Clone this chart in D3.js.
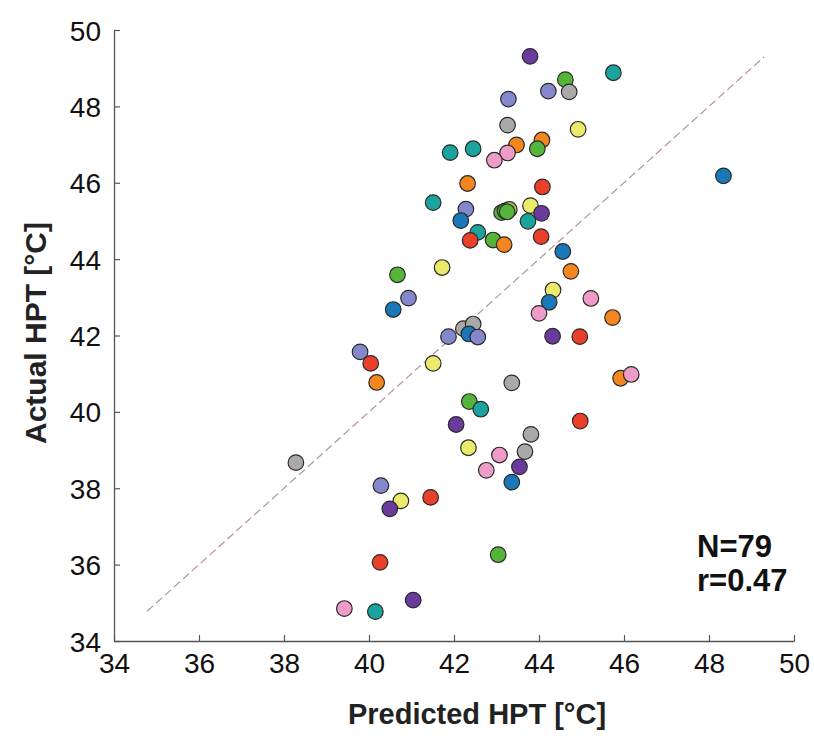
<!DOCTYPE html>
<html>
<head>
<meta charset="utf-8">
<script src="https://cdn.jsdelivr.net/npm/d3@7"></script>
<style>
  html, body { margin: 0; padding: 0; background: #fff; }
  svg { display: block; font-family: "Liberation Sans", Arial, sans-serif; }
</style>
</head>
<body>
<svg id="chart" width="814" height="736"></svg>
<script>
// ---- data ----
const predicted = [43.79,45.75,44.62,44.22,44.71,43.28,43.26,44.92,44.07,43.96,43.47,43.26,42.95,41.91,42.45,42.32,44.08,41.51,42.28,42.16,43.12,43.20,43.30,43.80,44.06,43.74,42.56,42.38,42.92,43.18,44.05,44.56,44.75,40.67,41.72,40.93,40.57,44.33,44.24,45.22,44.00,45.73,42.22,42.45,42.35,42.56,41.87,44.32,44.96,41.51,43.36,45.92,46.17,42.36,42.63,42.05,44.97,43.81,43.67,42.34,43.07,42.76,43.54,43.36,41.45,40.75,40.49,40.28,43.04,40.26,41.04,38.28,39.42,40.15,48.34,39.79,40.04,40.18,43.25];
const actual = [49.31,48.88,48.70,48.40,48.38,48.19,47.51,47.40,47.12,46.89,46.99,46.78,46.59,46.79,46.89,45.98,45.89,45.48,45.31,45.01,45.22,45.26,45.30,45.40,45.20,44.99,44.70,44.49,44.50,44.38,44.59,44.20,43.68,43.59,43.78,42.98,42.68,43.19,42.87,42.97,42.58,42.47,42.18,42.30,42.04,41.96,41.97,41.98,41.97,41.27,40.76,40.88,40.98,40.27,40.07,39.67,39.76,39.41,38.96,39.06,38.87,38.47,38.56,38.16,37.76,37.67,37.46,38.07,36.26,36.06,35.07,38.67,34.85,34.77,46.18,41.57,41.27,40.77,45.24];
const group = ["purple","teal","green","lavender","gray","lavender","gray","yellow","orange","green","orange","pink","pink","teal","teal","orange","red","teal","lavender","blue","green","green","lime","yellow","purple","teal","teal","red","green","orange","red","blue","orange","green","yellow","lavender","blue","yellow","blue","pink","pink","orange","gray","gray","blue","lavender","lavender","purple","red","yellow","gray","orange","pink","green","teal","purple","red","gray","gray","yellow","pink","pink","purple","blue","red","yellow","purple","lavender","green","red","purple","gray","pink","teal","blue","lavender","red","orange","green"];
const groupNames = ["blue","orange","green","lime","red","purple","lavender","pink","gray","yellow","teal"];
const groupColors = ["#1b78b8","#f3861f","#55b53a","#a9cf4a","#e8402a","#6a3b9c","#8487cb","#ee9bc7","#a9a9a9","#ebea6a","#1ba49d"];
const xTicks = [34,36,38,40,42,44,46,48,50];
const yTicks = [34,36,38,40,42,44,46,48,50];
const identityLine = [34.78, 49.3];
const statsText = ["N=79", "r=0.47"];

// ---- layout ----
const svg = d3.select("#chart");
const x = d3.scaleLinear().domain([34, 50]).range([114, 794]);
const y = d3.scaleLinear().domain([34, 50]).range([641, 30]);
const color = d3.scaleOrdinal().domain(groupNames).range(groupColors);

// axes
const xAxis = d3.axisBottom(x).tickValues(xTicks).tickSizeInner(-6).tickSizeOuter(0).tickPadding(12);
const yAxis = d3.axisLeft(y).tickValues(yTicks).tickSizeInner(-6).tickSizeOuter(0).tickPadding(13);

const gx = svg.append("g").attr("transform", `translate(0,${y(34)})`).call(xAxis);
const gy = svg.append("g").attr("transform", `translate(${x(34)},0)`).call(yAxis);
[gx, gy].forEach(g => {
  g.select(".domain").attr("stroke", "#555").attr("stroke-width", 1.3);
  g.selectAll(".tick line").attr("stroke", "#555").attr("stroke-width", 1.2);
  g.selectAll(".tick text").attr("fill", "#111").style("font-size", "28px")
    .style("font-family", '"Liberation Sans", Arial, sans-serif');
});
gy.selectAll(".tick text").attr("dy", "0.36em");

// identity line
svg.append("line")
  .attr("x1", x(identityLine[0])).attr("y1", y(identityLine[0]))
  .attr("x2", x(identityLine[1])).attr("y2", y(identityLine[1]))
  .attr("stroke", "#b89292").attr("stroke-width", 1.2)
  .attr("stroke-dasharray", "8,4");

// points
const pts = predicted.map((p, i) => ({p, a: actual[i], g: group[i]}));
svg.append("g").selectAll("circle").data(pts).join("circle")
  .attr("cx", d => x(d.p)).attr("cy", d => y(d.a)).attr("r", 7.8)
  .attr("fill", d => color(d.g))
  .attr("stroke", "#2a2a2a").attr("stroke-width", 1.2);

// stats text
svg.append("g").selectAll("text").data(statsText).join("text")
  .attr("x", 697).attr("y", (d, i) => 557 + i * 34)
  .style("font-size", "31px").style("font-weight", "bold").attr("fill", "#111")
  .text(d => d);

// axis titles
svg.append("text")
  .attr("x", 477).attr("y", 724).attr("text-anchor", "middle")
  .style("font-size", "29px").style("font-weight", "bold").attr("fill", "#222")
  .text("Predicted HPT [°C]");
svg.append("text")
  .attr("transform", `translate(46,333) rotate(-90)`).attr("text-anchor", "middle")
  .style("font-size", "30px").style("font-weight", "bold").attr("fill", "#222")
  .text("Actual HPT [°C]");
</script>
</body>
</html>
